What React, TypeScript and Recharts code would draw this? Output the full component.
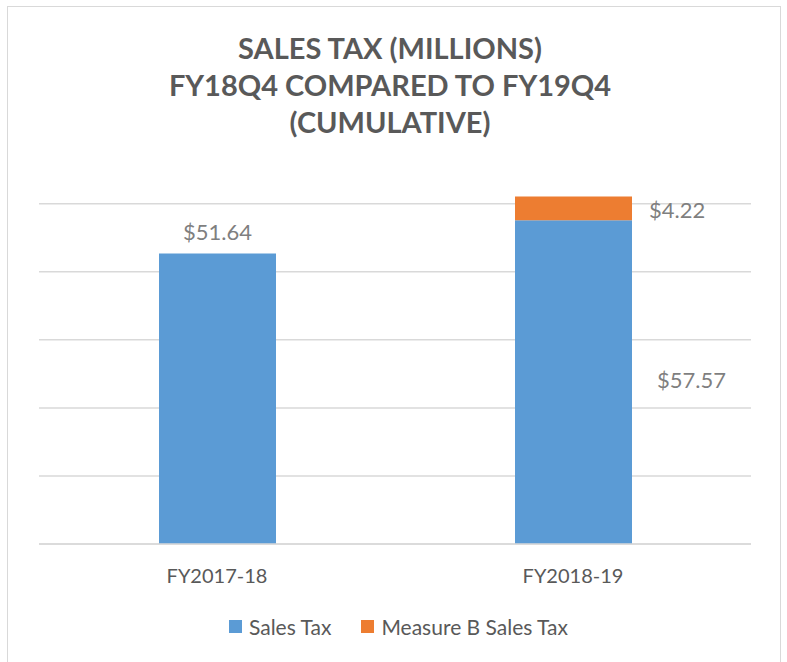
import React from 'react';
import { BarChart, Bar, XAxis, YAxis, CartesianGrid, LabelList } from 'recharts';

const categories = ['FY2017-18', 'FY2018-19'];
const salesTax = [51.64, 57.57];
const measureB: (number | null)[] = [null, 4.22];
const gridTicks = [0, 12.1, 24.2, 36.3, 48.4, 60.5];
const axisMax = 64;

const titleLines = ['SALES TAX (MILLIONS)', 'FY18Q4 COMPARED TO FY19Q4', '(CUMULATIVE)'];

const data = categories.map((name, i) => ({ name, salesTax: salesTax[i], measureB: measureB[i] }));

const BLUE = '#5B9BD5';
const ORANGE = '#ED7D31';
const FONT = 'Lato, "Open Sans", sans-serif';

const money = (v: number) => `$${v.toFixed(2)}`;

const SalesLabel = (props: any) => {
  const { x, y, width, height, value, index } = props;
  if (value == null) return null;
  if (index === 0) {
    return (
      <text x={x + width / 2} y={y - 19} textAnchor="middle" dominantBaseline="middle" fill="#7f7f7f" fontSize={22} fontFamily={FONT}>
        {money(value)}
      </text>
    );
  }
  return (
    <text x={x + width + 25} y={y + height / 2} textAnchor="start" dominantBaseline="middle" fill="#7f7f7f" fontSize={22} fontFamily={FONT}>
      {money(value)}
    </text>
  );
};

const MeasureLabel = (props: any) => {
  const { x, y, width, height, value } = props;
  if (value == null) return null;
  return (
    <text x={x + width + 17} y={y + height / 2 + 4} textAnchor="start" dominantBaseline="middle" fill="#7f7f7f" fontSize={22} fontFamily={FONT}>
      {money(value)}
    </text>
  );
};

export default function App() {
  return (
    <div style={{ position: 'absolute', left: 0, top: 0, width: 787, height: 662, overflow: 'hidden', background: '#fff', fontFamily: FONT }}>
      <div style={{ position: 'absolute', left: 7, top: 6, width: 774, height: 700, border: '1px solid #d9d9d9', boxSizing: 'border-box' }} />
      <div style={{ position: 'absolute', left: 0, top: 29, width: 780, textAlign: 'center', color: '#595959', fontWeight: 700, fontSize: 29, lineHeight: '37px' }}>
        {titleLines.map((t) => (
          <div key={t}>{t}</div>
        ))}
      </div>
      <div style={{ position: 'absolute', left: 0, top: 0 }}>
        <BarChart width={787} height={662} data={data} margin={{ top: 184, right: 36, left: 39, bottom: 78 }}>
          <CartesianGrid horizontal vertical={false} horizontalValues={gridTicks} stroke="#d9d9d9" strokeWidth={1.5} />
          <YAxis hide domain={[0, axisMax]} ticks={gridTicks} />
          <XAxis
            dataKey="name"
            height={40}
            axisLine={{ stroke: '#d9d9d9', strokeWidth: 1.5 }}
            tickLine={false}
            tick={{ fill: '#595959', fontSize: 20, fontFamily: FONT }}
            tickMargin={19}
          />
          <Bar dataKey="salesTax" stackId="a" fill={BLUE} barSize={117} isAnimationActive={false}>
            <LabelList dataKey="salesTax" content={SalesLabel} />
          </Bar>
          <Bar dataKey="measureB" stackId="a" fill={ORANGE} barSize={117} isAnimationActive={false}>
            <LabelList dataKey="measureB" content={MeasureLabel} />
          </Bar>
        </BarChart>
      </div>
      <div style={{ position: 'absolute', left: 0, top: 614, width: 797, display: 'flex', justifyContent: 'center', alignItems: 'center', color: '#595959', fontSize: 21 }}>
        <span style={{ display: 'inline-block', width: 13, height: 13, background: BLUE, marginRight: 7 }} />
        <span style={{ marginRight: 30 }}>Sales Tax</span>
        <span style={{ display: 'inline-block', width: 13, height: 13, background: ORANGE, marginRight: 7 }} />
        <span>Measure B Sales Tax</span>
      </div>
    </div>
  );
}
